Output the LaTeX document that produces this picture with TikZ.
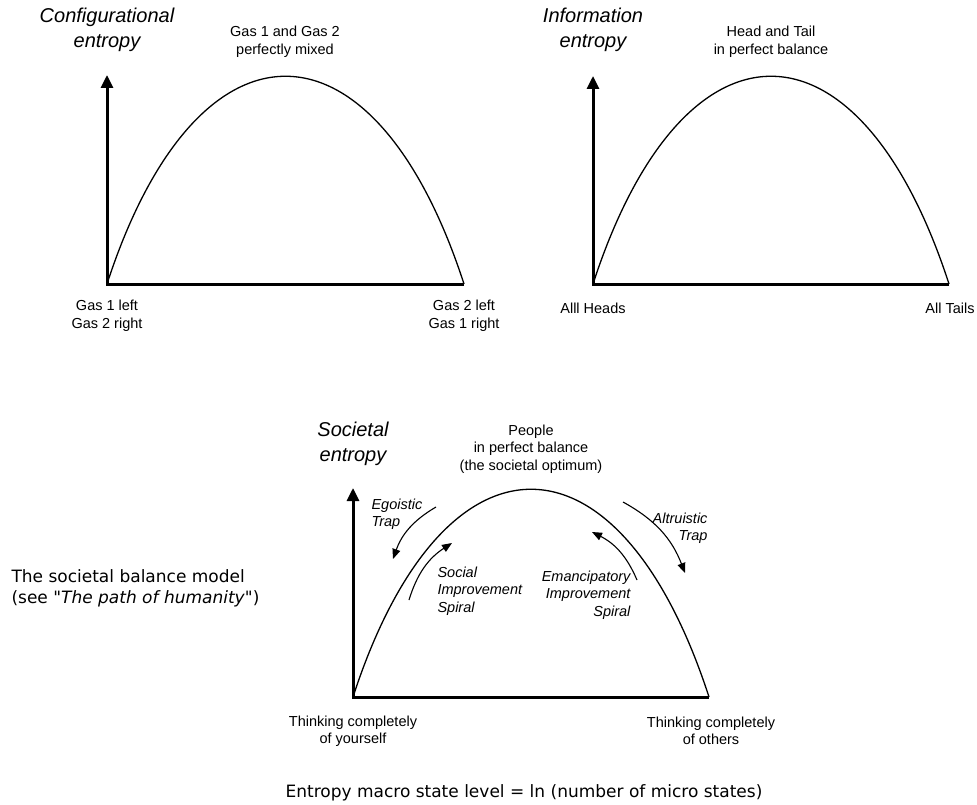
\documentclass[tikz,border=0pt]{standalone}
\usepackage{fontspec}
\setmainfont{Liberation Sans}
\newfontfamily\verdanafont{DejaVu Sans}
\usetikzlibrary{arrows.meta}

\tikzset{
  axis/.style={line width=3pt, -{Triangle[length=13pt,width=12pt]}},
  entropy/.style={line width=1.3pt},
  trap/.style={line width=1.1pt, -{Triangle[length=10pt,width=8pt]}},
  ttl/.style={font=\fontsize{20}{25}\selectfont\itshape, align=center},
  lbl/.style={font=\fontsize{14.5}{17.5}\selectfont, align=center},
  note/.style={font=\fontsize{14.5}{17.5}\selectfont\itshape},
  big/.style={font=\verdanafont\fontsize{17}{21}\selectfont}
}

\begin{document}
\begin{tikzpicture}[x=1pt, y=-1pt]
  \useasboundingbox (0,0) rectangle (977,805);

  % configurational entropy
  \begin{scope}[shift={(107,284)}]
    \coordinate (o1) at (0,0);
    \coordinate (x1) at (357,0);
    \coordinate (y1) at (0,-209);
    \draw[axis] (x1) -- (o1) -- (y1);
    \draw[entropy] (o1) .. controls +(90,-277) and +(-90,-277) .. (x1);
    \node[ttl] (t1) at (0,-254) {Configurational\\entropy};
    \node[lbl] (p1) at (178,-242) {Gas 1 and Gas 2\\perfectly mixed};
    \node[lbl] (l1) at (0,32) {Gas 1 left\\Gas 2 right};
    \node[lbl] (r1) at (357,32) {Gas 2 left\\Gas 1 right};
  \end{scope}

  % information entropy
  \begin{scope}[shift={(593,284)}]
    \coordinate (o2) at (0,0);
    \coordinate (x2) at (356,0);
    \coordinate (y2) at (0,-208);
    \draw[axis] (x2) -- (o2) -- (y2);
    \draw[entropy] (o2) .. controls +(90,-277) and +(-90,-277) .. (x2);
    \node[ttl] (t2) at (0,-254) {Information\\entropy};
    \node[lbl] (p2) at (178,-242) {Head and Tail\\in perfect balance};
    \node[lbl] (l2) at (0,24) {Alll Heads};
    \node[lbl] (r2) at (357,24) {All Tails};
  \end{scope}

  % societal entropy
  \begin{scope}[shift={(353,697)}]
    \coordinate (o3) at (0,0);
    \coordinate (x3) at (356,0);
    \coordinate (y3) at (0,-209);
    \draw[axis] (x3) -- (o3) -- (y3);
    \draw[entropy] (o3) .. controls +(90,-277) and +(-90,-277) .. (x3);
    \node[ttl] (t3) at (0,-253) {Societal\\entropy};
    \node[lbl] (p3) at (178,-248) {People\\in perfect balance\\(the societal optimum)};
    \node[lbl] (l3) at (0,34) {Thinking completely\\of yourself};
    \node[lbl] (r3) at (358,34) {Thinking completely\\of others};

    \coordinate (egoA) at (83,-190);
    \coordinate (egoB) at (40,-138);
    \coordinate (socA) at (56,-97);
    \coordinate (socB) at (99,-154);
    \coordinate (emaA) at (284,-117);
    \coordinate (emaB) at (239,-165);
    \coordinate (altA) at (270,-195);
    \coordinate (altB) at (332,-124);
    \draw[trap] (egoA) to[bend right=20] (egoB);
    \draw[trap] (socA) to[bend left=20] (socB);
    \draw[trap] (emaA) to[bend right=20] (emaB);
    \draw[trap] (altA) to[bend left=20] (altB);

    \node[note, anchor=west, align=left] (ego) at (15,-183) {Egoistic\\Trap};
    \node[note, anchor=west, align=left] (soc) at (81,-106) {Social\\Improvement\\Spiral};
    \node[note, anchor=east, align=right] (ema) at (281,-102) {Emancipatory\\Improvement\\Spiral};
    \node[note, anchor=east, align=right] (alt) at (358,-169) {Altruistic\\Trap};
  \end{scope}

  \node[big, anchor=west, align=left] (model) at (8,588) {The societal balance model\\(see "\textit{The path of humanity}")};
  \node[big] (formula) at (524,793) {Entropy macro state level = ln (number of micro states)};
\end{tikzpicture}
\end{document}
